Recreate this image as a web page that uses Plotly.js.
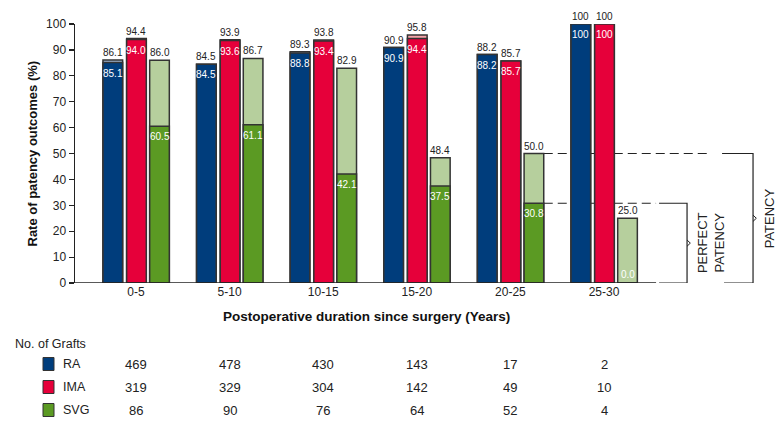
<!DOCTYPE html>
<html>
<head>
<meta charset="utf-8">
<script src="https://cdn.plot.ly/plotly-3.0.1.min.js"></script>
<style>html,body{margin:0;padding:0;background:#fff;}#chart{width:782px;height:424px;}</style>
</head>
<body>
<div id="chart"></div>
<script>
// ---- data ----
const categories = ['0-5', '5-10', '10-15', '15-20', '20-25', '25-30'];
const seriesNames = ['RA', 'IMA', 'SVG'];
const raPatency  = [86.1, 84.5, 89.3, 90.9, 88.2, 100];
const raPerfect  = [85.1, 84.5, 88.8, 90.9, 88.2, 100];
const imaPatency = [94.4, 93.9, 93.8, 95.8, 85.7, 100];
const imaPerfect = [94.0, 93.6, 93.4, 94.4, 85.7, 100];
const svgPatency = [86.0, 86.7, 82.9, 48.4, 50.0, 25.0];
const svgPerfect = [60.5, 61.1, 42.1, 37.5, 30.8, 0.0];
const raGrafts  = [469, 478, 430, 143, 17, 2];
const imaGrafts = [319, 329, 304, 142, 49, 10];
const svgGrafts = [86, 90, 76, 64, 52, 4];
const yTicks = [0, 10, 20, 30, 40, 50, 60, 70, 80, 90, 100];

// ---- styles ----
const FONT = 'Liberation Sans, Arial, Helvetica, sans-serif';
const darkColors  = ['#003d7c', '#e6003a', '#5b9a23'];
const lightColors = ['#a3b8d6', '#f5a3a8', '#b6cf9d'];
const offsets = [-0.353, -0.1, 0.146];
const W = 0.21;
const outline = {color: '#333333', width: 1.5};

const patencyData = [raPatency, imaPatency, svgPatency];
const perfectData = [raPerfect, imaPerfect, svgPerfect];
const graftData = [raGrafts, imaGrafts, svgGrafts];
const xIdx = categories.map((c, i) => i);

const M = {l: 75, r: 2, t: 24, b: 141};
const PW = 782 - M.l - M.r, PH = 424 - M.t - M.b;
const px = X => (X - M.l) / PW;
const py = Y => (424 - M.b - Y) / PH;

const fmt = v => (v === 100 ? '100' : v.toFixed(1));

const traces = [];
seriesNames.forEach((name, s) => {
  traces.push({
    type: 'bar', x: xIdx, y: patencyData[s], name: name + ' patency',
    offset: offsets[s], width: W,
    marker: {color: lightColors[s], line: outline},
    hoverinfo: 'skip', showlegend: false
  });
  traces.push({
    type: 'bar', x: xIdx, y: perfectData[s], name: name + ' perfect',
    offset: offsets[s], width: W,
    marker: {color: darkColors[s], line: outline},
    hoverinfo: 'skip', showlegend: false
  });
});

const annotations = [];
seriesNames.forEach((name, s) => {
  xIdx.forEach(i => {
    const xc = i + offsets[s] + W / 2;
    annotations.push({
      x: xc, y: patencyData[s][i], xref: 'x', yref: 'y',
      text: fmt(patencyData[s][i]), showarrow: false,
      xanchor: 'center', yanchor: 'bottom', yshift: 0,
      font: {family: FONT, size: 10, color: '#222'}
    });
    const pv = perfectData[s][i];
    annotations.push({
      x: xc, y: pv, xref: 'x', yref: 'y',
      text: fmt(pv), showarrow: false,
      xanchor: 'center', yanchor: pv < 5 ? 'bottom' : 'top', yshift: pv < 5 ? 1 : -3,
      font: {family: FONT, size: 10, color: '#ffffff'}
    });
  });
});

// axis titles
annotations.push({
  x: px(32), y: 0.5, xref: 'paper', yref: 'paper', textangle: -90,
  xanchor: 'center', yanchor: 'middle',
  text: '<b>Rate of patency outcomes (%)</b>', showarrow: false,
  font: {family: FONT, size: 13, color: '#111'}
});
annotations.push({
  x: px(366), y: py(316), xref: 'paper', yref: 'paper',
  xanchor: 'center', yanchor: 'middle',
  text: '<b>Postoperative duration since surgery (Years)</b>', showarrow: false,
  font: {family: FONT, size: 13.5, color: '#111'}
});

// table
annotations.push({
  x: px(13), y: py(344), xref: 'paper', yref: 'paper', xanchor: 'left', yanchor: 'middle',
  text: 'No. of Grafts', showarrow: false,
  font: {family: FONT, size: 12.5, color: '#222'}
});
const rowY = [364, 387, 410];
const shapes = [];
seriesNames.forEach((name, s) => {
  shapes.push({
    type: 'rect', xref: 'paper', yref: 'paper',
    x0: px(43), x1: px(54), y0: py(rowY[s] - 6.5), y1: py(rowY[s] + 6.5),
    fillcolor: darkColors[s], line: {color: '#333', width: 1}
  });
  annotations.push({
    x: px(61), y: py(rowY[s]), xref: 'paper', yref: 'paper', xanchor: 'left', yanchor: 'middle',
    text: name, showarrow: false, font: {family: FONT, size: 12.5, color: '#222'}
  });
  xIdx.forEach(i => {
    annotations.push({
      x: i, y: py(rowY[s]), xref: 'x', yref: 'paper', xanchor: 'center', yanchor: 'middle',
      text: String(graftData[s][i]), showarrow: false,
      font: {family: FONT, size: 13, color: '#222'}
    });
  });
});

// x axis line (only under the bar groups)
const xMin = -0.6517, xMax = 6.88;
shapes.push({type: 'line', xref: 'x', yref: 'y', x0: xMin, x1: 5.556, y0: 0, y1: 0,
  line: {color: '#222', width: 1.5}});

// brackets
const refI = 4; // 20-25 SVG bar
const startX = refI + offsets[2] + W;
const perfY = svgPerfect[refI], patY = svgPatency[refI];
const dashStyle = '9px,5px';
// perfect patency bracket
shapes.push({type: 'line', xref: 'x', yref: 'y', x0: startX, x1: 5.556, y0: perfY, y1: perfY,
  layer: 'below', line: {color: '#222', width: 1.2, dash: dashStyle}});
shapes.push({type: 'path', xref: 'x', yref: 'y',
  path: `M 5.588 ${perfY} L 5.887 ${perfY} L 5.887 0 L 5.588 0`,
  line: {color: '#222', width: 1.2}});
shapes.push({type: 'path', xref: 'x', yref: 'y',
  path: `M 5.887 ${perfY / 2 + 1.2} L 5.922 ${perfY / 2} L 5.887 ${perfY / 2 - 1.2}`,
  line: {color: '#222', width: 1}});
// patency bracket
shapes.push({type: 'line', xref: 'x', yref: 'y', x0: startX, x1: 6.14, y0: patY, y1: patY,
  layer: 'below', line: {color: '#222', width: 1.2, dash: dashStyle}});
shapes.push({type: 'path', xref: 'x', yref: 'y',
  path: `M 6.261 ${patY} L 6.592 ${patY} L 6.592 0 L 6.282 0`,
  line: {color: '#222', width: 1.2}});
shapes.push({type: 'path', xref: 'x', yref: 'y',
  path: `M 6.592 ${patY / 2 + 1.2} L 6.627 ${patY / 2} L 6.592 ${patY / 2 - 1.2}`,
  line: {color: '#222', width: 1}});

annotations.push({
  x: 6.143, y: perfY / 2, xref: 'x', yref: 'y', textangle: -90,
  xanchor: 'center', yanchor: 'middle',
  text: 'PERFECT<br>PATENCY', showarrow: false,
  font: {family: FONT, size: 13, color: '#222'}
});
annotations.push({
  x: 6.763, y: patY / 2, xref: 'x', yref: 'y', textangle: -90,
  xanchor: 'center', yanchor: 'middle',
  text: 'PATENCY', showarrow: false,
  font: {family: FONT, size: 13, color: '#222'}
});

const layout = {
  width: 782, height: 424,
  margin: M,
  paper_bgcolor: '#ffffff', plot_bgcolor: '#ffffff',
  barmode: 'overlay',
  showlegend: false,
  font: {family: FONT, size: 12, color: '#222'},
  xaxis: {
    type: 'linear', range: [xMin, xMax],
    tickvals: xIdx, ticktext: categories,
    showgrid: false, zeroline: false, showline: false, ticks: '',
    tickfont: {family: FONT, size: 12, color: '#222'}
  },
  yaxis: {
    range: [0, 100], tickvals: yTicks,
    showgrid: false, zeroline: false,
    showline: true, linecolor: '#222', linewidth: 1.5,
    ticks: 'outside', ticklen: 5, tickcolor: '#222', tickwidth: 1.2,
    tickfont: {family: FONT, size: 12, color: '#222'}
  },
  shapes: shapes,
  annotations: annotations
};

Plotly.newPlot('chart', traces, layout, {displayModeBar: false, staticPlot: true});
</script>
</body>
</html>
